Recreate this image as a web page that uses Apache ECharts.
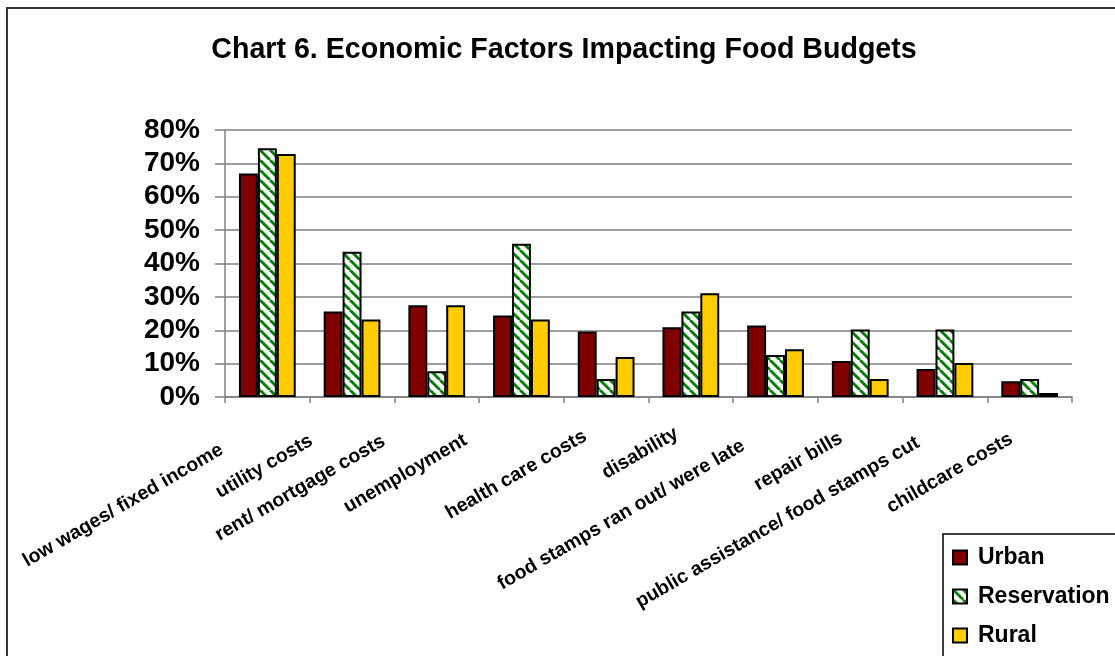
<!DOCTYPE html>
<html>
<head>
<meta charset="utf-8">
<script src="https://cdn.jsdelivr.net/npm/echarts@6/dist/echarts.min.js"></script>
<style>
html,body{margin:0;padding:0;background:#fff;}
#chart{width:1115px;height:656px;}
</style>
</head>
<body>
<div id="chart"></div>
<script>
const categories = ['low wages/ fixed income','utility costs','rent/ mortgage costs','unemployment','health care costs','disability','food stamps ran out/ were late','repair bills','public assistance/ food stamps cut','childcare costs'];
const urban = [0.67,0.256,0.275,0.244,0.196,0.209,0.214,0.108,0.084,0.047];
const reservation = [0.745,0.435,0.077,0.459,0.054,0.256,0.126,0.202,0.202,0.054];
const rural = [0.728,0.232,0.275,0.232,0.12,0.311,0.143,0.054,0.102,0.012];
const yTicks = [0,0.1,0.2,0.3,0.4,0.5,0.6,0.7,0.8];
// per-label padding [top, right, bottom, left] used to place the rotated labels like the original
const labelPad = [[0,44.5,4.2,0],[0,35.8,9.6,0],[0,46.6,15.3,0],[0,48.7,17.6,0],[0,16.4,3.5,0],[0,9,2.5,0],[0,30.9,1,0],[0,15.8,1,0],[0,24.9,1,0],[0,15.5,0,0]];

function stripePattern(){
  const c = document.createElement('canvas');
  c.width = 10; c.height = 10;
  const ctx = c.getContext('2d');
  ctx.fillStyle = '#ffffff';
  ctx.fillRect(0,0,10,10);
  ctx.strokeStyle = '#008000';
  ctx.lineWidth = 2.8;
  for (const k of [-10,0,10]) {
    ctx.beginPath();
    ctx.moveTo(k,0); ctx.lineTo(k+10,10);
    ctx.stroke();
  }
  return {image: c, repeat: 'repeat'};
}

const chart = echarts.init(document.getElementById('chart'), null, {renderer:'canvas'});
const font = 'Liberation Sans, Arial, sans-serif';
const barBorder = {borderColor:'#000', borderWidth:2};
const xData = categories.map((c,i)=>({value:c, textStyle:{padding:labelPad[i], verticalAlign:'bottom'}}));
chart.setOption({
  animation:false,
  backgroundColor:'#fff',
  title:{
    text:'Chart 6. Economic Factors Impacting Food Budgets',
    left:559, top:31, textAlign:'center',
    textStyle:{fontFamily:font, fontWeight:'bold', fontSize:28.6, color:'#000'}
  },
  grid:{left:225, right:43, top:130, bottom:259, containLabel:false},
  legend:{
    orient:'vertical', left:947, top:541,
    itemWidth:14, itemHeight:14, itemGap:16, icon:'rect',
    textStyle:{fontFamily:font, fontWeight:'bold', fontSize:23, color:'#000', padding:[0,0,0,6]},
    data:['Urban','Reservation','Rural']
  },
  xAxis:{
    type:'category', data:xData,
    axisLine:{lineStyle:{color:'#808080', width:1.5}},
    axisTick:{show:true, length:6, lineStyle:{color:'#808080', width:1.5}},
    axisLabel:{
      interval:0, rotate:30, margin:41.5, color:'#000', lineHeight:20,
      fontFamily:font, fontWeight:'bold', fontSize:19.5
    }
  },
  yAxis:{
    type:'value', min:0, max:0.8, interval:0.1,
    axisLine:{show:true, lineStyle:{color:'#808080', width:1.5}},
    axisTick:{show:true, length:10, lineStyle:{color:'#808080', width:1.5}},
    splitLine:{lineStyle:{color:'#808080', width:1.5}},
    axisLabel:{
      margin:25, color:'#000', fontFamily:font, fontWeight:'bold', fontSize:28,
      formatter:function(v){ return Math.round(v*100)+'%'; }
    }
  },
  series:[
    {name:'Urban', type:'bar', data:urban, barGap:'0%', barCategoryGap:'33%',
     itemStyle:Object.assign({color:'#800000'}, barBorder)},
    {name:'Reservation', type:'bar', data:reservation, barGap:'0%', barCategoryGap:'33%',
     itemStyle:Object.assign({color:stripePattern()}, barBorder)},
    {name:'Rural', type:'bar', data:rural, barGap:'0%', barCategoryGap:'33%',
     itemStyle:Object.assign({color:'#FFCC00'}, barBorder)}
  ],
  graphic:[
    {type:'rect', shape:{x:7, y:8, width:1200, height:800}, style:{fill:null, stroke:'#333', lineWidth:2}, silent:true},
    {type:'rect', shape:{x:943, y:534, width:300, height:200}, style:{fill:null, stroke:'#000', lineWidth:1.5}, silent:true}
  ]
});
</script>
</body>
</html>
